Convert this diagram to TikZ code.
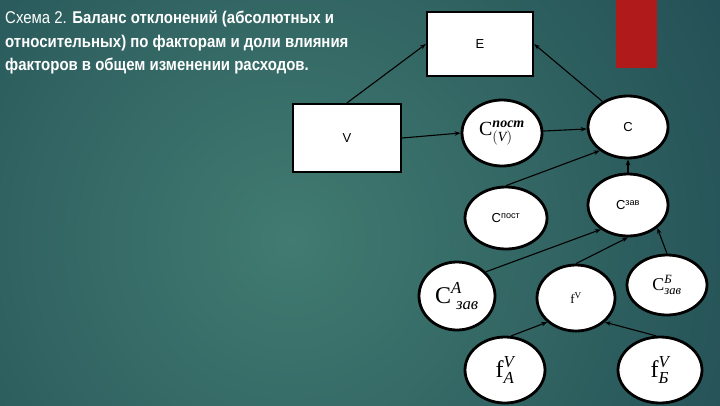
\documentclass[tikz,border=0pt]{standalone}
\usepackage{fontspec}
\usepackage{amsmath}
\setmainfont{Liberation Serif}
\setsansfont{Liberation Sans}
\newfontfamily\titlefont[FakeStretch=0.88]{Liberation Sans}
\usetikzlibrary{arrows.meta,shapes.geometric}
\definecolor{bgmid}{HTML}{417B71}
\definecolor{bgdark}{HTML}{103444}
\definecolor{redbar}{HTML}{B01A1A}
\tikzset{
  box/.style={draw=black, line width=2.2pt, fill=white, inner sep=0pt,
    font=\sffamily\fontsize{13}{13}\selectfont},
  ell/.style={ellipse, draw=black, line width=2.8pt, fill=white, inner sep=0pt},
  arr/.style={-{Stealth[length=6pt,width=4.5pt]}, line width=1.1pt, draw=black},
  ttl/.style={anchor=base west, text=white, inner sep=0pt,
    font=\titlefont\fontsize{17}{17}\selectfont},
  big/.style={font=\fontsize{20}{20}\selectfont},
  sml/.style={font=\sffamily\fontsize{13}{13}\selectfont}
}
\begin{document}
\begin{tikzpicture}[x=1pt,y=-1pt]
\useasboundingbox (0,0) rectangle (720,405);
\begin{scope}
  \clip (0,0) rectangle (720,405);
  \fill[bgdark] (0,0) rectangle (720,405);
  \shade[inner color=bgmid, outer color=bgdark] (290,240) circle (820);
\end{scope}
\fill[redbar] (616,0) rectangle (657,68);

\node[ttl] (t1) at (5,23) {Схема 2. \bfseries Баланс отклонений (абсолютных и};
\node[ttl] (t2) at (5,47) {\bfseries относительных) по факторам и доли влияния};
\node[ttl] (t3) at (5,70) {\bfseries факторов в общем изменении расходов.};

\node[box, minimum width=106pt, minimum height=64pt] (E) at (480,44) {E};
\node[box, minimum width=108pt, minimum height=68pt] (V) at (347,138) {V};

\node[ell, minimum width=80pt, minimum height=66pt, big] (Cpv) at (502,133)
  {$\text{C}^{\textit{\bfseries пост}}_{(\textit{V})}$};
\node[ell, minimum width=80pt, minimum height=62pt, sml] (C) at (628,127) {C};
\node[ell, minimum width=82pt, minimum height=62pt, sml] (Cpost) at (506,218)
  {C\textsuperscript{пост}};
\node[ell, minimum width=80pt, minimum height=62pt, sml] (Czav) at (628,205)
  {C\textsuperscript{зав}};
\node[ell, minimum width=76pt, minimum height=68pt, font=\fontsize{24}{24}\selectfont] (CAzav) at (457,296)
  {$\text{C}^{\textit{А}}_{\;\textit{зав}}$};
\node[ell, minimum width=78pt, minimum height=66pt, font=\fontsize{13}{13}\selectfont] (fV) at (576,298)
  {f\textsuperscript{V}};
\node[ell, minimum width=80pt, minimum height=60pt, font=\fontsize{18}{18}\selectfont] (CBzav) at (667,285)
  {$\text{C}^{\textit{Б}}_{\textit{зав}}$};
\node[ell, minimum width=80pt, minimum height=66pt, font=\fontsize{24}{24}\selectfont] (fA) at (505,370)
  {$\text{f}^{\textit{V}}_{\textit{А}}$};
\node[ell, minimum width=84pt, minimum height=66pt, font=\fontsize{24}{24}\selectfont] (fB) at (660,370)
  {$\text{f}^{\textit{V}}_{\textit{Б}}$};

\draw[arr] (V.north) -- (E.west);
\draw[arr] (C.135) -- (E.east);
\draw[arr] (V.east) -- (Cpv.west);
\draw[arr] (Cpv) -- (C);
\draw[arr] (Cpost.north) -- (C.220);
\draw[arr] (Czav) -- (C);
\draw[arr] (CAzav.40) -- (Czav.222);
\draw[arr] (fV.north) -- (Czav.south);
\draw[arr] (CBzav.north) -- (Czav.-38);
\draw[arr] (fA.80) -- (fV.220);
\draw[arr] (fB.97) -- (fV.-40);
\end{tikzpicture}
\end{document}
